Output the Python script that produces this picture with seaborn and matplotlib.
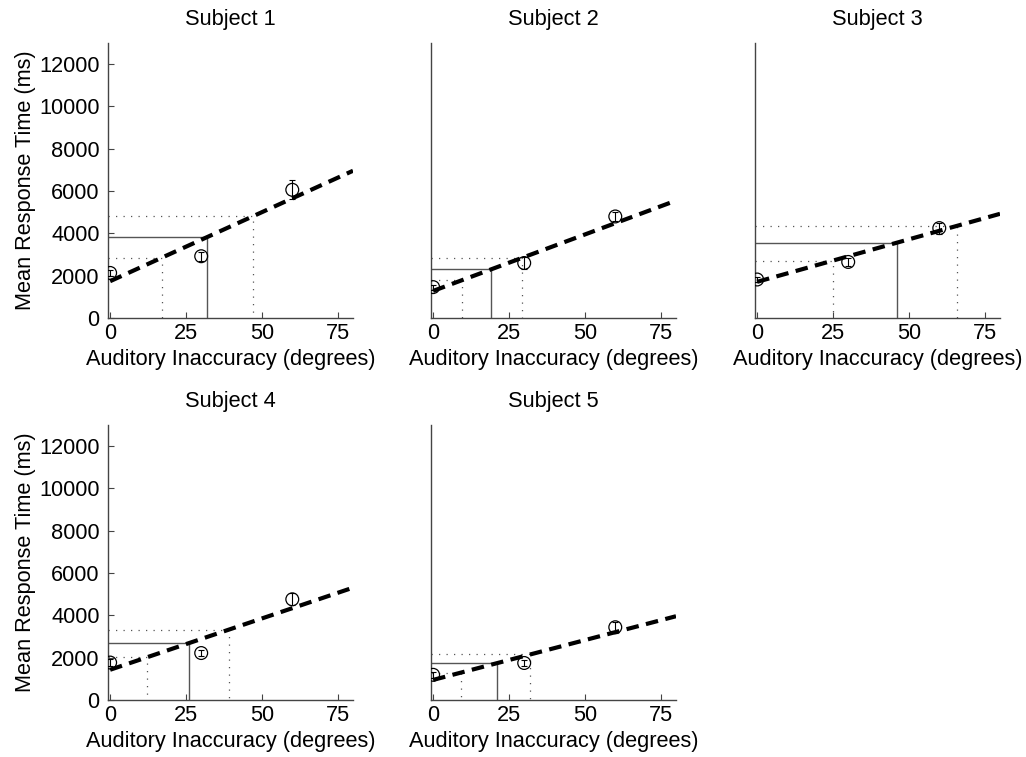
import numpy as np
import pandas as pd
import matplotlib
matplotlib.use("Agg")
import matplotlib.pyplot as plt
import seaborn as sns

# Mean response times (ms) at each tested auditory inaccuracy (degrees)
inaccuracy = [0, 30, 60]
subjects = ["Subject 1", "Subject 2", "Subject 3", "Subject 4", "Subject 5"]
mean_rt = [
    [2130, 2920, 6060],
    [1460, 2600, 4800],
    [1820, 2650, 4250],
    [1770, 2220, 4760],
    [1190, 1750, 3440],
]
rt_err = [
    [150, 220, 450],
    [120, 280, 220],
    [130, 200, 260],
    [170, 160, 280],
    [130, 140, 260],
]
# Linear fit: predicted RT at 0 and 80 degrees
fit_at_0 = [1740, 1280, 1710, 1430, 950]
fit_at_80 = [6960, 5550, 4925, 5310, 3960]
# Criterion inaccuracy (solid) and its lower/upper bounds (dotted)
criterion = [32, 19, 46, 26, 21]
lower_bound = [17, 9.4, 25, 12, 9.3]
upper_bound = [47, 29.2, 66, 39, 32]

x_ticks = [0, 25, 50, 75]
y_ticks = [0, 2000, 4000, 6000, 8000, 10000, 12000]

sns.set_style("ticks")
plt.rcParams["font.family"] = ["Liberation Sans", "DejaVu Sans"]
FS = 15.7
plt.rcParams.update({
    "font.size": FS,
    "text.color": "black",
    "axes.labelcolor": "black",
    "axes.titlecolor": "black",
})

fig = plt.figure(figsize=(10.26, 7.57), dpi=100)
W, H = 1026, 757
col_left = [108, 431, 755]
row_bottom = [318, 700]
ax_w, ax_h = 245, 275

spine_col = "#444444"
ref_col = "#555555"

for i, name in enumerate(subjects):
    r, c = divmod(i, 3)
    ax = fig.add_axes([col_left[c] / W, (H - row_bottom[r]) / H, ax_w / W, ax_h / H])
    x0, x1 = -0.7, 80
    ax.set_xlim(x0, x1)
    ax.set_ylim(0, 13000)

    def fit(x):
        return fit_at_0[i] + (fit_at_80[i] - fit_at_0[i]) * x / 80.0

    # criterion: solid horizontal then vertical down to the axis
    yc = fit(criterion[i])
    ax.plot([x0, criterion[i], criterion[i]], [yc, yc, 0], color=ref_col, lw=1.0, zorder=2)
    for xb in (lower_bound[i], upper_bound[i]):
        yb = fit(xb)
        ax.plot([x0, xb, xb], [yb, yb, 0], color=ref_col, lw=0.9,
                linestyle=(0, (1, 5)), zorder=2)

    # fitted line
    fit_df = pd.DataFrame({"x": [0, 80], "y": [fit_at_0[i], fit_at_80[i]]})
    sns.lineplot(data=fit_df, x="x", y="y", ax=ax, color="black", lw=3,
                 linestyle=(0, (3.0, 1.8)), zorder=4)

    # means with error bars
    ax.errorbar(inaccuracy, mean_rt[i], yerr=rt_err[i], fmt="none",
                ecolor="black", elinewidth=0.8, capsize=2, capthick=0.8, zorder=5)
    pts = pd.DataFrame({"x": inaccuracy, "y": mean_rt[i]})
    sns.scatterplot(data=pts, x="x", y="y", ax=ax, marker="o", s=85,
                    facecolors="none", edgecolor="black", linewidth=0.9, zorder=6)

    ax.set_title(name, fontsize=FS, pad=13, color="black")
    ax.set_xlabel("Auditory Inaccuracy (degrees)", fontsize=FS, labelpad=4, color="black")
    ax.set_xticks(x_ticks)
    if c == 0:
        ax.set_yticks(y_ticks)
        ax.set_ylabel("Mean Response Time (ms)", fontsize=FS, labelpad=2, color="black")
    else:
        ax.set_yticks([])
        ax.set_ylabel("")
    ax.tick_params(direction="in", length=4, width=0.8, colors=spine_col,
                   labelcolor="black", labelsize=FS)
    ax.tick_params(axis="x", pad=3.5)
    ax.tick_params(axis="y", pad=6)
    for side in ("top", "right"):
        ax.spines[side].set_visible(False)
    for side in ("left", "bottom"):
        ax.spines[side].set_color(spine_col)
        ax.spines[side].set_linewidth(1.0)

fig.savefig("out.png", dpi=100)
